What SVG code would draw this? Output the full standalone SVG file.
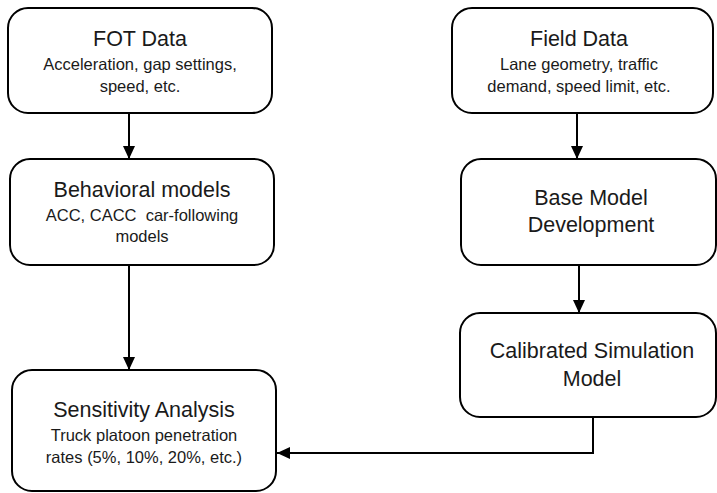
<svg xmlns="http://www.w3.org/2000/svg" width="717" height="493" viewBox="0 0 717 493">
<defs>
<style>
.box{fill:#ffffff;stroke:#000;stroke-width:2}
.t{font-family:"Liberation Sans",Arial,sans-serif;fill:#1a1a1a;text-anchor:middle}
.h{font-size:21.5px}
.s{font-size:16.5px}
.c{fill:none;stroke:#000;stroke-width:2}
</style>
<marker id="ah" markerUnits="userSpaceOnUse" markerWidth="14" markerHeight="12" refX="13" refY="6" orient="auto">
<path d="M0,0 L13,6 L0,12 Z" fill="#000"/>
</marker>
</defs>
<rect width="717" height="493" fill="#fff"/>
<g id="fot">
<rect class="box" x="8" y="8" width="264" height="105" rx="20"/>
<text class="t h" x="140" y="46">FOT Data</text>
<text class="t s" x="140" y="70">Acceleration, gap settings,</text>
<text class="t s" x="140" y="92">speed, etc.</text>
</g>
<g id="behavioral">
<rect class="box" x="10" y="159" width="264" height="106" rx="20"/>
<text class="t h" x="142" y="197">Behavioral models</text>
<text class="t s" x="142" y="221" xml:space="preserve">ACC, CACC  car-following</text>
<text class="t s" x="142" y="242">models</text>
</g>
<g id="sensitivity">
<rect class="box" x="12" y="370" width="264" height="121" rx="20"/>
<text class="t h" x="144" y="417">Sensitivity Analysis</text>
<text class="t s" x="144" y="441">Truck platoon penetration</text>
<text class="t s" x="144" y="463">rates (5%, 10%, 20%, etc.)</text>
</g>
<g id="field">
<rect class="box" x="452" y="8" width="261" height="105" rx="20"/>
<text class="t h" x="579" y="46">Field Data</text>
<text class="t s" x="579" y="70">Lane geometry, traffic</text>
<text class="t s" x="579" y="92">demand, speed limit, etc.</text>
</g>
<g id="base">
<rect class="box" x="461" y="159" width="255" height="106" rx="20"/>
<text class="t h" x="591" y="205">Base Model</text>
<text class="t h" x="591" y="232">Development</text>
</g>
<g id="calibrated">
<rect class="box" x="460" y="313" width="256" height="104" rx="20"/>
<text class="t h" x="592" y="358">Calibrated Simulation</text>
<text class="t h" x="592" y="386">Model</text>
</g>
<g id="connectors">
<path class="c" d="M129,113 V159" marker-end="url(#ah)"/>
<path class="c" d="M129,265 V370" marker-end="url(#ah)"/>
<path class="c" d="M577,113 V159" marker-end="url(#ah)"/>
<path class="c" d="M579,265 V313" marker-end="url(#ah)"/>
<path class="c" d="M593,417 V453 H277" marker-end="url(#ah)"/>
</g>
</svg>
